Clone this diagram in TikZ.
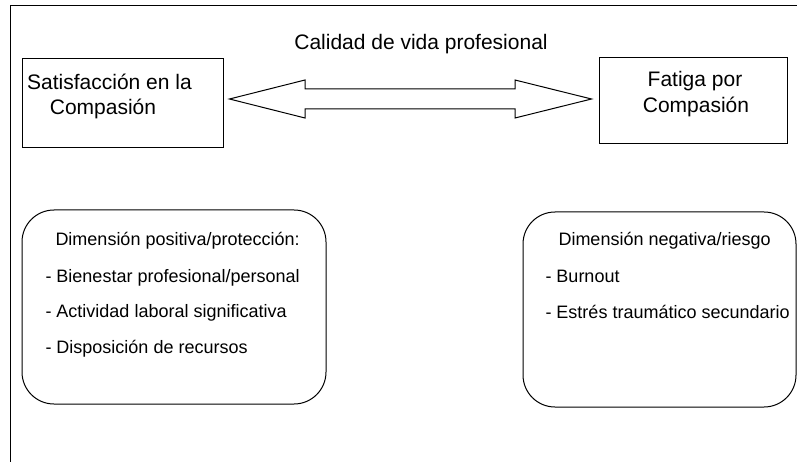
\documentclass[tikz,border=0pt]{standalone}
\usepackage{fontspec}
\setmainfont{Liberation Sans}
\begin{document}
\begin{tikzpicture}[x=1pt,y=-1pt,
  line width=1pt,
  bigtxt/.style={font=\fontsize{21}{25}\selectfont, inner sep=0pt},
  smalltxt/.style={font=\fontsize{18}{22}\selectfont, inner sep=0pt, anchor=base west},
  sqbox/.style={draw, rectangle, inner sep=0pt},
  rbox/.style={draw, rectangle, rounded corners=32pt, inner sep=0pt}]
\useasboundingbox (0,0) rectangle (797,462);
% frame (only top and left visible)
\coordinate (fa) at (797,6);
\coordinate (fb) at (10,6);
\coordinate (fc) at (10,462);
\draw (fa) -- (fb) -- (fc);
% title
\node[bigtxt, anchor=base] (title) at (421,50) {Calidad de vida profesional};
% top boxes
\node[sqbox, minimum width=201pt, minimum height=89pt] (lbox) at (122.5,103.5) {};
\node[bigtxt, anchor=base] (lt1) at (109.5,90) {Satisfacción en la};
\node[bigtxt, anchor=base] (lt2) at (103,115) {Compasión};
\node[sqbox, minimum width=188pt, minimum height=86pt] (rbox) at (693,101) {};
\node[bigtxt, anchor=base] (rt1) at (695,87) {Fatiga por};
\node[bigtxt, anchor=base] (rt2) at (696,113) {Compasión};
% double block arrow between the boxes
\coordinate (tipL) at ([xshift=6pt]lbox.east |- 0,99);
\coordinate (tipR) at ([xshift=-7pt]rbox.west |- 0,99);
\draw (tipL) -- (305,80) -- (305,89) -- (515,89) -- (515,80) -- (tipR)
  -- (515,118) -- (515,109) -- (305,109) -- (305,118) -- cycle;
% bottom rounded boxes
\node[rbox, minimum width=304pt, minimum height=194pt] (pbox) at (174,307) {};
\node[smalltxt] (p0) at (55,245) {Dimensión positiva/protección:};
\node[smalltxt] (p1) at (45,282) {- Bienestar profesional/personal};
\node[smalltxt] (p2) at (45,317) {- Actividad laboral significativa};
\node[smalltxt] (p3) at (45,353) {- Disposición de recursos};
\node[rbox, minimum width=273pt, minimum height=195pt] (nbox) at (659.5,309.5) {};
\node[smalltxt] (n0) at (558,245) {Dimensión negativa/riesgo};
\node[smalltxt] (n1) at (545,282) {- Burnout};
\node[smalltxt] (n2) at (545,318) {- Estrés traumático secundario};
\end{tikzpicture}
\end{document}
